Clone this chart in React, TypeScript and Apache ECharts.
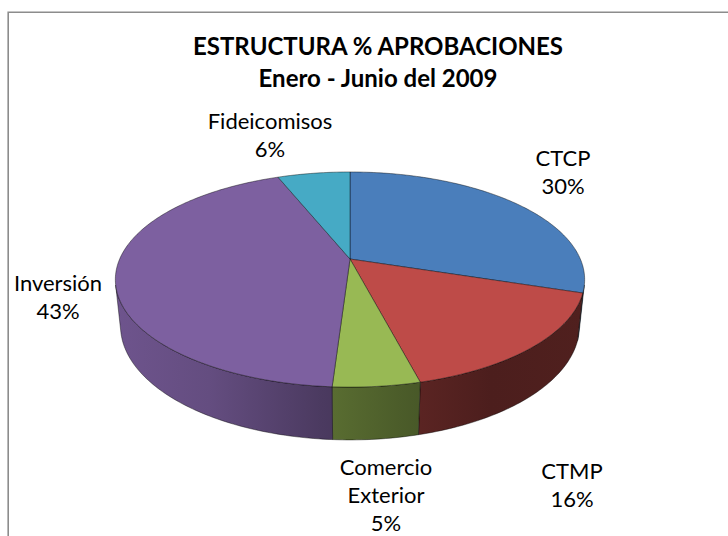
import React, { useEffect, useRef } from "react";
import * as echarts from "echarts";

// ---- data ----
const categories = ["CTCP", "CTMP", "Comercio\nExterior", "Inversión", "Fideicomisos"];
const values = [30, 16, 5, 43, 6];
const sliceColors = ["#4a7ebb", "#be4b48", "#98b954", "#7d60a0", "#46aac5"];
const titleLines = ["ESTRUCTURA % APROBACIONES", "Enero - Junio del 2009"];

// ---- layout (not data) ----
const labelAnchors = [
  [563, 171],
  [572, 484],
  [386, 494],
  [58, 296],
  [270, 134],
];
const CX = 350;
const CY = 259;
const SIN_T = 0.45;
const COS_T = 0.893;
const DIST = 4.68;
const FOCAL = 1078;
const THICK = 0.227;
const FONT = "Lato, 'Open Sans', sans-serif";

const VIS_MIN = (Math.acos(-1 / (DIST * COS_T)) * 180) / Math.PI;
const VIS_MAX = 360 - VIS_MIN;

function project(theta: number, y: number): number[] {
  const t = (theta * Math.PI) / 180;
  const X = Math.sin(t);
  const Z = Math.cos(t);
  const depth = DIST + Z * COS_T - y * SIN_T;
  return [CX + (FOCAL * X) / depth, CY - (FOCAL * (y * COS_T + Z * SIN_T)) / depth];
}

function shade(hex: string, f: number): string {
  const n = parseInt(hex.slice(1), 16);
  const r = Math.round(((n >> 16) & 255) * f);
  const g = Math.round(((n >> 8) & 255) * f);
  const b = Math.round((n & 255) * f);
  return `rgb(${r},${g},${b})`;
}

const total = values.reduce((a, b) => a + b, 0);
function sliceRange(i: number): number[] {
  let s = 0;
  for (let k = 0; k < i; k++) s += values[k];
  return [(s / total) * 360, ((s + values[i]) / total) * 360];
}

function arcPoints(a0: number, a1: number, y: number): number[][] {
  const pts: number[][] = [];
  const steps = Math.max(2, Math.ceil(a1 - a0));
  for (let s = 0; s <= steps; s++) {
    pts.push(project(a0 + ((a1 - a0) * s) / steps, y));
  }
  return pts;
}

export default function App() {
  const ref = useRef<HTMLDivElement>(null);
  useEffect(() => {
    if (!ref.current) return;
    const chart = echarts.init(ref.current, null, { renderer: "svg" });
    const gx0 = CX - 235;
    const gx1 = CX + 235;
    const option: any = {
      animation: false,
      backgroundColor: "#ffffff",
      title: {
        text: titleLines.join("\n"),
        left: 378,
        top: 29,
        padding: 0,
        textAlign: "center",
        textStyle: {
          fontFamily: FONT,
          fontSize: 24,
          fontWeight: "bold",
          lineHeight: 32,
          color: "#000",
        },
      },
      graphic: [
        {
          type: "rect",
          silent: true,
          z: -10,
          shape: { x: 8.2, y: 12.2, width: 900, height: 700 },
          style: { fill: "none", stroke: "#8c8c8c", lineWidth: 1.6 },
        },
      ],
      series: [
        {
          type: "custom",
          coordinateSystem: "none",
          z: 1,
          data: values,
          renderItem: (params: any) => {
            const i = params.dataIndex;
            const [a0, a1] = sliceRange(i);
            const lo = Math.max(a0, VIS_MIN);
            const hi = Math.min(a1, VIS_MAX);
            if (hi <= lo) return { type: "group", children: [] };
            const topPts = arcPoints(lo, hi, 0);
            const botPts = arcPoints(lo, hi, -THICK).reverse();
            const base = sliceColors[i];
            const stops = [
              [0, 0.88],
              [0.2, 0.8],
              [0.44, 0.6],
              [0.6, 0.5],
              [0.8, 0.4],
              [1, 0.42],
            ].map(([o, f]) => ({ offset: o, color: shade(base, f) }));
            return {
              type: "polygon",
              shape: { points: topPts.concat(botPts) },
              style: {
                fill: new echarts.graphic.LinearGradient(gx0, 0, gx1, 0, stops, true),
                stroke: "rgba(0,0,0,0.6)",
                lineWidth: 0.7,
              },
            };
          },
        },
        {
          type: "custom",
          coordinateSystem: "none",
          z: 2,
          data: values,
          renderItem: (params: any, api: any) => {
            const i = params.dataIndex;
            const v = api.value(0);
            const [a0, a1] = sliceRange(i);
            const pts = [[CX, CY]].concat(arcPoints(a0, a1, 0));
            const pct = Math.round((v / total) * 100) + "%";
            const [lx, ly] = labelAnchors[i];
            return {
              type: "group",
              children: [
                {
                  type: "polygon",
                  shape: { points: pts },
                  style: {
                    fill: sliceColors[i],
                    stroke: "rgba(0,0,0,0.6)",
                    lineWidth: 0.7,
                  },
                },
                {
                  type: "text",
                  x: lx,
                  y: ly,
                  style: {
                    text: categories[i] + "\n" + pct,
                    fill: "#000",
                    fontFamily: FONT,
                    fontSize: 22,
                    lineHeight: 28,
                    align: "center",
                    verticalAlign: "middle",
                  },
                },
              ],
            };
          },
        },
      ],
    };
    chart.setOption(option);
    return () => chart.dispose();
  }, []);
  return (
    <div
      ref={ref}
      style={{ position: "absolute", left: 0, top: 0, width: 728, height: 536 }}
    />
  );
}
